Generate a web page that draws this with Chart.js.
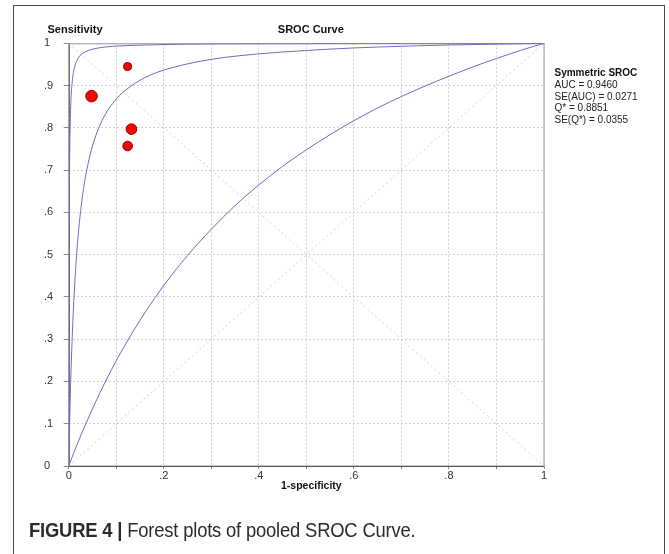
<!DOCTYPE html>
<html>
<head>
<meta charset="utf-8">
<script src="https://cdn.jsdelivr.net/npm/chart.js@4"></script>
<style>
  html, body { margin: 0; padding: 0; background: #fff; }
  #wrap { position: relative; width: 669px; height: 554px; overflow: hidden; }
  #frame { position: absolute; left: 13px; top: 5px; width: 652px; height: 600px;
           border: 1.5px solid #4a4a4a; box-sizing: border-box; }
  #cv { position: absolute; left: 0; top: 0; }
  #caption { position: absolute; left: 29px; top: 519px; font-family: "Liberation Sans", Arial, sans-serif;
             font-size: 20px; color: #2b2b2b; white-space: nowrap; transform-origin: 0 50%;
             transform: scaleX(0.92); letter-spacing: -0.2px; }
  #caption b { font-weight: bold; }
</style>
</head>
<body>
<div id="wrap">
  <div id="frame"></div>
  <canvas id="cv" width="669" height="554"></canvas>
  <div id="caption"><b>FIGURE 4</b> <b>|</b> Forest plots of pooled SROC Curve.</div>
</div>
<script>
// ---- Data ----
const xTickLabels = ['0', '.2', '.4', '.6', '.8', '1'];
const yTickLabels = ['0', '.1', '.2', '.3', '.4', '.5', '.6', '.7', '.8', '.9', '1'];

// Study points: 1-specificity, sensitivity, relative weight
const studyFpr = [0.124, 0.048, 0.132, 0.124];
const studySens = [0.945, 0.875, 0.797, 0.757];
const studyWeight = [1.0, 2.1, 1.76, 1.44];

// Symmetric SROC curve (middle)
const srocFpr = [0, 0.0005, 0.001, 0.002, 0.004, 0.007, 0.01, 0.015, 0.02, 0.03, 0.04, 0.05, 0.07, 0.1, 0.13, 0.17, 0.22, 0.3, 0.4, 0.5, 0.6, 0.7, 0.8, 0.9, 1];
const srocSens = [0, 0.029, 0.056, 0.106, 0.192, 0.294, 0.374, 0.474, 0.547, 0.647, 0.711, 0.757, 0.817, 0.868, 0.898, 0.924, 0.943, 0.962, 0.975, 0.983, 0.989, 0.993, 0.996, 0.998, 1];

// Upper curve
const upperFpr = [0, 0.0001, 0.0003, 0.0006, 0.001, 0.002, 0.003, 0.005, 0.008, 0.012, 0.018, 0.025, 0.035, 0.05, 0.075, 0.11, 0.16, 0.25, 0.4, 0.6, 1];
const upperSens = [0, 0.118, 0.287, 0.445, 0.573, 0.728, 0.801, 0.871, 0.915, 0.942, 0.961, 0.972, 0.980, 0.986, 0.991, 0.994, 0.996, 0.998, 0.999, 0.9995, 1];

// Lower curve
const lowerFpr = [0, 0.01, 0.025, 0.05, 0.08, 0.12, 0.16, 0.2, 0.25, 0.3, 0.35, 0.4, 0.45, 0.5, 0.55, 0.6, 0.65, 0.7, 0.75, 0.8, 0.85, 0.9, 0.95, 1];
const lowerSens = [0, 0.029, 0.071, 0.135, 0.206, 0.289, 0.362, 0.427, 0.498, 0.560, 0.616, 0.665, 0.709, 0.748, 0.784, 0.817, 0.847, 0.874, 0.899, 0.922, 0.944, 0.964, 0.983, 1];

// Reference diagonals
const diagUpFpr = [0, 1];
const diagUpSens = [0, 1];
const diagDownFpr = [0, 1];
const diagDownSens = [1, 0];

const chartTitle = 'SROC Curve';
const yAxisTitle = 'Sensitivity';
const xAxisTitle = '1-specificity';
const statsTitle = 'Symmetric SROC';
const statsLines = ['AUC = 0.9460', 'SE(AUC) = 0.0271', 'Q* = 0.8851', 'SE(Q*) = 0.0355'];

// ---- Build chart ----
const pts = (xs, ys) => xs.map((x, i) => ({ x: x, y: ys[i] }));
const FONT = '"Liberation Sans", Arial, sans-serif';
const curveColor = '#6d6dbd';

const textPlugin = {
  id: 'texts',
  beforeDatasetsDraw(chart) {
    const ctx = chart.ctx, a = chart.chartArea;
    ctx.save();
    ctx.lineWidth = 1;
    ctx.strokeStyle = '#9a9a9a';
    ctx.strokeRect(a.left + 0.5, a.top + 0.5, a.right - a.left - 0.5, a.bottom - a.top - 0.5);
    ctx.strokeStyle = '#555';
    ctx.beginPath();
    ctx.moveTo(a.left + 0.5, a.top);
    ctx.lineTo(a.left + 0.5, a.bottom + 0.5);
    ctx.lineTo(a.right, a.bottom + 0.5);
    ctx.stroke();
    ctx.restore();
  },
  afterDraw(chart) {
    const ctx = chart.ctx, a = chart.chartArea;
    ctx.save();
    ctx.fillStyle = '#111';
    ctx.textBaseline = 'middle';
    ctx.font = 'bold 11px ' + FONT;
    ctx.textAlign = 'left';
    ctx.fillText(yAxisTitle, 47.5, 30);
    ctx.textAlign = 'center';
    ctx.fillText(chartTitle, (a.left + a.right) / 2 + 4.5, 30);
    ctx.font = 'bold 10.5px ' + FONT;
    ctx.fillText(xAxisTitle, (a.left + a.right) / 2 + 5, 486);
    ctx.textAlign = 'left';
    ctx.font = 'bold 10px ' + FONT;
    ctx.fillText(statsTitle, a.right + 10.5, 73.5);
    ctx.font = '10px ' + FONT;
    ctx.fillStyle = '#222';
    statsLines.forEach((s, i) => ctx.fillText(s, a.right + 10.5, 85 + i * 11.8));
    ctx.restore();
  }
};

const lineDs = (label, xs, ys) => ({
  label: label, data: pts(xs, ys), showLine: true, borderColor: curveColor,
  borderWidth: 1, pointRadius: 0, pointHoverRadius: 0, fill: false,
  cubicInterpolationMode: 'monotone', order: 1
});
const diagDs = (label, xs, ys) => ({
  label: label, data: pts(xs, ys), showLine: true, borderColor: '#d2d2d2',
  borderWidth: 1, borderDash: [2, 3], pointRadius: 0, fill: false, order: 2
});

new Chart(document.getElementById('cv'), {
  type: 'scatter',
  data: {
    datasets: [
      {
        label: 'Studies', data: pts(studyFpr, studySens), order: 0,
        backgroundColor: '#ff0000', borderColor: '#8a0000', borderWidth: 1,
        pointRadius: studyWeight.map(w => 4 * Math.sqrt(w)),
        pointHoverRadius: studyWeight.map(w => 4 * Math.sqrt(w))
      },
      lineDs('Upper', upperFpr, upperSens),
      lineDs('SROC', srocFpr, srocSens),
      lineDs('Lower', lowerFpr, lowerSens),
      diagDs('Diag1', diagUpFpr, diagUpSens),
      diagDs('Diag2', diagDownFpr, diagDownSens)
    ]
  },
  options: {
    responsive: false, animation: false, devicePixelRatio: 1,
    layout: { padding: { left: 44, top: 43.3, right: 125, bottom: 68 } },
    plugins: { legend: { display: false }, tooltip: { enabled: false }, title: { display: false } },
    scales: {
      x: {
        type: 'linear', min: 0, max: 1,
        afterFit(s) { s.height = 20; },
        border: { display: false, dash: [2, 2] },
        grid: { color: '#d2d2d2', lineWidth: 1, tickLength: 3, tickColor: '#888', tickBorderDash: [] },
        ticks: {
          stepSize: 0.1, autoSkip: false, maxRotation: 0, padding: 0,
          color: '#333', font: { family: FONT, size: 11 },
          callback: (v, i) => (i % 2 === 0 ? xTickLabels[i / 2] : '')
        }
      },
      y: {
        type: 'linear', min: 0, max: 1,
        afterFit(s) { s.width = 24.7; },
        border: { display: false, dash: [2, 2] },
        grid: { color: '#d2d2d2', lineWidth: 1, tickLength: 5, tickColor: '#888', tickBorderDash: [] },
        ticks: {
          stepSize: 0.1, autoSkip: false, crossAlign: 'far', padding: 6,
          color: '#333', font: { family: FONT, size: 11 },
          callback: (v, i) => yTickLabels[i]
        }
      }
    }
  },
  plugins: [textPlugin]
});
</script>
</body>
</html>
